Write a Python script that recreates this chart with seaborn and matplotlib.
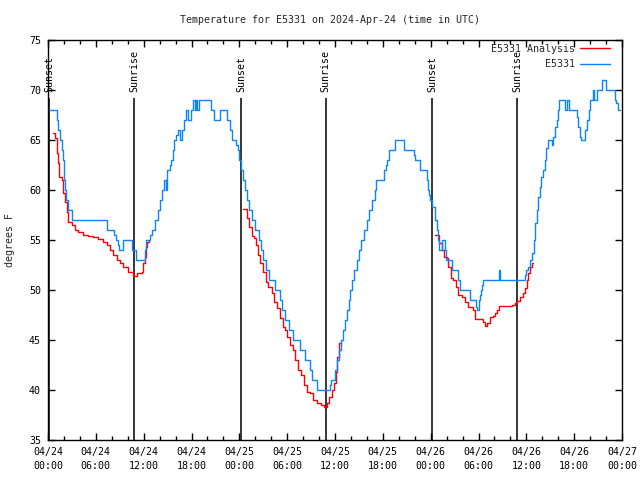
import numpy as np
import pandas as pd
import matplotlib
matplotlib.use("Agg")
import matplotlib.pyplot as plt
import matplotlib.dates as mdates
import seaborn as sns

# ---------------- data ----------------
start = pd.Timestamp("2024-04-24 00:00")
title = "Temperature for E5331 on 2024-Apr-24 (time in UTC)"

# Observed E5331 (hours after start, deg F), stepwise
obs_hours = [0.0, 1.1, 1.3, 1.5, 1.7, 1.85, 1.95, 2.05, 2.15, 2.3, 2.5, 2.95,
             7.4, 8.3, 8.55, 8.75, 8.95, 9.4, 10.5, 11.1, 12.15, 12.35, 12.8, 13.0,
             13.4, 13.8, 14.05, 14.35, 14.6, 14.75, 14.9, 15.25, 15.45, 15.65, 15.85,
             16.1, 16.25, 16.5, 16.75, 17.1, 17.35, 17.55, 17.95, 18.15, 18.4, 18.55,
             18.75, 18.9, 20.4, 20.8, 21.6, 22.45, 22.85, 23.1, 23.6, 23.85, 24.0,
             24.25, 24.45, 24.65, 25.0, 25.25, 25.6, 26.0, 26.5, 26.75, 26.95, 27.4,
             27.75, 28.5, 29.05, 29.4, 29.7, 30.2, 30.7, 31.55, 32.2, 32.85, 33.15,
             33.75, 35.4, 35.5, 35.95, 36.2, 36.5, 36.8, 37.0, 37.2, 37.45, 37.7,
             37.9, 38.15, 38.4, 38.75, 39.0, 39.2, 39.6, 40.0, 40.3, 40.7, 41.0,
             41.2, 42.1, 42.35, 42.55, 42.8, 43.5, 44.65, 45.85, 46.05, 46.7, 47.55,
             47.7, 47.8, 47.95, 48.15, 48.6, 48.75, 48.9, 49.1, 49.45, 49.75, 49.95,
             50.65, 51.45, 51.7, 52.9, 53.65, 53.75, 54.0, 54.1, 54.25, 54.35, 54.5,
             54.6, 56.55, 56.65, 59.8, 60.0, 60.15, 60.4, 60.7, 60.9, 61.1, 61.3,
             61.5, 61.7, 61.9, 62.1, 62.3, 62.5, 62.7, 63.2, 63.4, 63.6, 63.8, 64.0,
             64.1, 64.8, 65.1, 65.4, 66.3, 66.5, 66.7, 66.9, 67.35, 67.6, 67.8, 68.0,
             68.3, 68.45, 68.9, 69.55, 69.95, 71.1, 71.3, 71.5, 71.75]
obs_temps = [68, 67, 66, 65, 64, 63, 62, 61, 60, 59, 58, 57,
             56, 55.5, 55, 54.5, 54, 55, 54, 53, 54, 55, 55.5, 56,
             57, 58, 59, 60, 61, 60, 62, 62.5, 63, 64, 65,
             65.5, 66, 65, 66, 67, 68, 67, 68, 69, 68, 69,
             68, 69, 68, 67, 68, 67, 66, 65, 64.5, 64, 63,
             62, 61, 60, 59, 58, 57, 56, 55, 54, 53, 52,
             51, 50, 49, 48, 47, 46, 45, 44, 43, 42, 41,
             40, 40.5, 41, 42, 43, 44, 45, 46, 47, 48, 49,
             50, 51, 52, 53, 54, 55, 56, 57, 58, 59, 60,
             61, 62, 62.5, 63, 64, 65, 64, 63.5, 63, 62, 61,
             60, 59.5, 59, 58.3, 57, 56, 55, 54, 55, 54, 53,
             52, 51, 50, 49, 48.3, 48, 48.5, 49, 49.5, 50, 50.5,
             51, 52, 51, 51.5, 52, 52.3, 53, 53.7, 55, 56.7, 58,
             59.3, 60.3, 61.3, 62, 63, 64.2, 65, 64.5, 65.3, 66.3, 67, 68,
             69, 68, 69, 68, 67.3, 66.3, 65.3, 65, 66, 67, 68, 69,
             70, 69, 70, 71, 70, 69, 68.7, 68, 68]

# E5331 Analysis, three overnight segments
ana1_hours = [0.59, 0.88, 1.09, 1.29, 1.42, 1.72, 1.92, 2.13, 2.35, 2.55, 2.97, 3.39,
              3.8, 4.43, 5.06, 5.68, 6.31, 6.94, 7.36, 7.78, 8.19, 8.62, 9.03, 9.45,
              10.07, 10.62, 11.13, 11.75, 11.95, 12.17, 12.29, 12.46, 12.71]
ana1_temps = [65.7, 65.2, 63.7, 62.7, 61.3, 61.0, 59.7, 58.8, 57.8, 56.8, 56.5, 56.0,
              55.8, 55.5, 55.4, 55.3, 55.1, 54.8, 54.5, 54.0, 53.5, 53.0, 52.7, 52.3,
              51.8, 51.4, 51.7, 51.8, 52.7, 53.3, 54.3, 54.8, 55.0]
ana2_hours = [24.5, 25.0, 25.25, 25.55, 25.84, 26.09, 26.38, 26.59, 27.01, 27.35,
              27.63, 28.06, 28.35, 28.69, 29.1, 29.44, 29.73, 30.02, 30.36, 30.7,
              30.98, 31.4, 31.7, 32.11, 32.45, 32.87, 33.28, 33.71, 34.21, 34.66,
              34.96, 35.29, 35.59, 35.88, 36.13, 36.29, 36.54, 36.72]
ana2_temps = [58.1, 57.2, 56.3, 55.4, 55.2, 54.5, 53.5, 52.7, 51.8, 50.8,
              50.3, 49.7, 48.8, 48.2, 47.2, 46.3, 46.0, 45.3, 44.5, 44.0,
              43.0, 42.0, 41.5, 40.5, 39.8, 39.7, 39.0, 38.7, 38.5, 38.3,
              38.7, 39.3, 40.0, 40.7, 41.8, 43.3, 44.7, 44.8]
ana3_hours = [48.54, 49.08, 49.38, 49.67, 50.01, 50.21, 50.51, 50.84, 51.18, 51.47,
              51.9, 52.31, 52.72, 53.27, 53.56, 53.62, 54.4, 54.6, 54.82, 55.03,
              55.44, 55.86, 56.07, 56.36, 56.61, 57.95, 58.17, 58.58, 58.87, 59.21,
              59.55, 59.83, 60.05, 60.25, 60.46, 60.67, 60.84]
ana3_temps = [55.5, 54.7, 54.0, 53.3, 53.2, 52.3, 51.2, 51.0, 50.3, 49.5,
              49.3, 48.8, 48.3, 48.0, 47.7, 47.1, 47.1, 46.8, 46.4, 46.7,
              47.3, 47.4, 47.7, 48.0, 48.4, 48.4, 48.5, 48.7, 48.9, 49.3,
              49.7, 50.2, 51.0, 51.7, 52.3, 52.7, 52.7]

sunset_hours = [0.16, 24.25, 48.2]
sunrise_hours = [10.83, 34.83, 58.87]

y_ticks = [35, 40, 45, 50, 55, 60, 65, 70, 75]

# ---------------- style ----------------
sns.set_theme(style="ticks")
plt.rcParams["font.family"] = ["DejaVu Sans Mono", "DejaVu Sans"]
FS = 7.2
plt.rcParams.update({
    "axes.edgecolor": "black", "axes.linewidth": 1.0,
    "xtick.direction": "in", "ytick.direction": "in",
    "xtick.top": True, "ytick.right": True,
    "xtick.color": "black", "ytick.color": "black",
    "font.size": FS,
})

def to_time(hours):
    return start + pd.to_timedelta(np.asarray(hours, dtype=float), unit="h")

fig = plt.figure(figsize=(6.4, 4.8), dpi=100)
ax = fig.add_axes([48/640, 40/480, 574/640, 400/480])

red = "#ff0000"
blue = "#0a84ff"

for i, (hh, tt) in enumerate([(ana1_hours, ana1_temps), (ana2_hours, ana2_temps),
                              (ana3_hours, ana3_temps)]):
    df = pd.DataFrame({"time": to_time(hh), "temp": tt})
    sns.lineplot(data=df, x="time", y="temp", color=red, lw=1.0,
                 drawstyle="steps-post", ax=ax, legend=False,
                 label="E5331 Analysis" if i == 0 else None)

obs_df = pd.DataFrame({"time": to_time(obs_hours), "temp": obs_temps})
sns.lineplot(data=obs_df, x="time", y="temp", color=blue, lw=1.0,
             drawstyle="steps-post", ax=ax, legend=False, label="E5331")

# sunrise/sunset markers
for name, hrs in [("Sunset", sunset_hours), ("Sunrise", sunrise_hours)]:
    tms = to_time(hrs)
    ax.vlines(tms, 35, 69.2, color="black", lw=1.1, zorder=1)
    for t in tms:
        ax.text(t, 69.8, name, rotation=90, ha="center", va="bottom",
                fontsize=FS, color="black")

ax.set_xlim(to_time([0])[0], to_time([72])[0])
ax.set_ylim(35, 75)
ax.set_yticks(y_ticks)
ax.set_yticklabels([str(v) for v in y_ticks], fontsize=FS)

ax.xaxis.set_major_locator(mdates.HourLocator(byhour=[0, 6, 12, 18]))
ax.xaxis.set_major_formatter(mdates.DateFormatter("%m/%d\n%H:%M"))
ax.xaxis.set_minor_locator(mdates.HourLocator(byhour=range(0, 24, 2)))
ax.tick_params(axis="both", which="major", length=5, width=1.0, labelsize=FS, pad=5)
ax.tick_params(axis="x", which="minor", length=3, width=1.0, top=True)
for lab in ax.get_xticklabels():
    lab.set_linespacing(1.5)

ax.set_xlabel("")
ax.set_ylabel("")
for s in ax.spines.values():
    s.set_visible(True)
    s.set_color("black")

fig.text(330/640, 1 - 20/480, title, ha="center", va="center", fontsize=FS)
fig.text(10/640, 240/480, "degrees F", rotation=90, ha="center", va="center",
         fontsize=FS)

handles, labels = ax.get_legend_handles_labels()
ax.legend(handles, labels, loc="upper right", bbox_to_anchor=(0.979, 0.99),
          frameon=False, markerfirst=False, handlelength=3.0, handletextpad=0.5,
          fontsize=FS, borderaxespad=0.0, borderpad=0.0, labelspacing=0.55)

fig.savefig("out.png", dpi=100)
